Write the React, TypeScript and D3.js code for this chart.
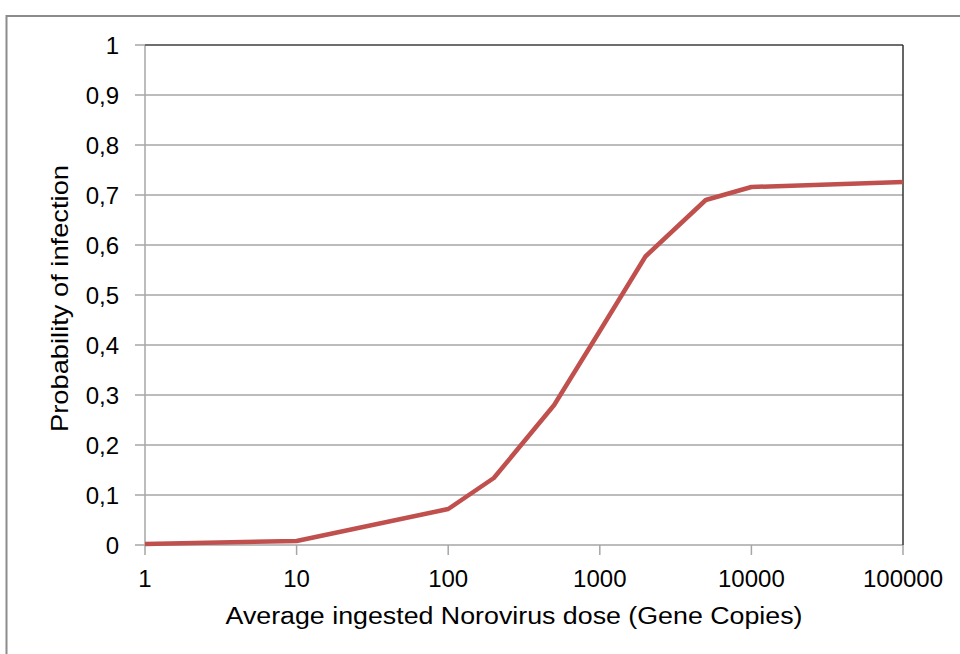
import React from "react";
import * as d3 from "d3";

const doses = [1, 10, 100, 200, 500, 1000, 2000, 5000, 10000, 100000];
const probabilities = [0.002, 0.008, 0.072, 0.134, 0.28, 0.428, 0.577, 0.69, 0.716, 0.726];
const xTicks = [1, 10, 100, 1000, 10000, 100000];
const yTicks = [0, 0.1, 0.2, 0.3, 0.4, 0.5, 0.6, 0.7, 0.8, 0.9, 1];
const xTitle = "Average ingested Norovirus dose (Gene Copies)";
const yTitle = "Probability of infection";

export default function App() {
  const W = 960, H = 654;
  const left = 145, right = 903, top = 45, bottom = 545;
  const x = d3.scaleLog().domain([1, 100000]).range([left, right]);
  const y = d3.scaleLinear().domain([0, 1]).range([bottom, top]);
  const pts: [number, number][] = doses.map((d, i) => [d, probabilities[i]]);
  const line = d3.line<[number, number]>().x(d => x(d[0])).y(d => y(d[1]));
  const fmt = (v: number) => (v === 0 ? "0" : v === 1 ? "1" : d3.format(".1f")(v).replace(".", ","));
  const font = "Liberation Sans, Arial, sans-serif";
  return (
    <svg width={W} height={H} style={{ position: "absolute", left: 0, top: 0, background: "#fff" }} fontFamily={font}>
      <rect x={0} y={0} width={W} height={H} fill="#fff" />
      <rect x={6.5} y={16} width={W + 20} height={H + 20} fill="none" stroke="#8c8c8c" strokeWidth={2} />
      {yTicks.map(t => (
        <g key={"y" + t}>
          <line x1={left} x2={right} y1={y(t)} y2={y(t)} stroke="#a6a6a6" strokeWidth={1.5} />
          <line x1={135} x2={left} y1={y(t)} y2={y(t)} stroke="#a6a6a6" strokeWidth={1.5} />
          <text x={119} y={y(t)} dy="0.36em" textAnchor="end" fontSize={24} fill="#000">{fmt(t)}</text>
        </g>
      ))}
      {xTicks.map(t => (
        <g key={"x" + t}>
          <line x1={x(t)} x2={x(t)} y1={bottom} y2={bottom + 10} stroke="#a6a6a6" strokeWidth={1.5} />
          <text x={x(t)} y={587} textAnchor="middle" fontSize={24} fill="#000">{t}</text>
        </g>
      ))}
      <line x1={left} x2={left} y1={top} y2={bottom} stroke="#a6a6a6" strokeWidth={1.5} />
      <line x1={left} x2={right} y1={top} y2={top} stroke="#555" strokeWidth={1.5} />
      <line x1={right} x2={right} y1={top} y2={bottom} stroke="#333" strokeWidth={1.5} />
      <path d={line(pts) || ""} fill="none" stroke="#c0504d" strokeWidth={4.5} strokeLinejoin="round" />
      <text x={514} y={624} textAnchor="middle" fontSize={23} textLength={577} lengthAdjust="spacingAndGlyphs" fill="#000">{xTitle}</text>
      <text transform="translate(68,298.5) rotate(-90)" textAnchor="middle" fontSize={24} textLength={267} lengthAdjust="spacingAndGlyphs" fill="#000">{yTitle}</text>
    </svg>
  );
}
